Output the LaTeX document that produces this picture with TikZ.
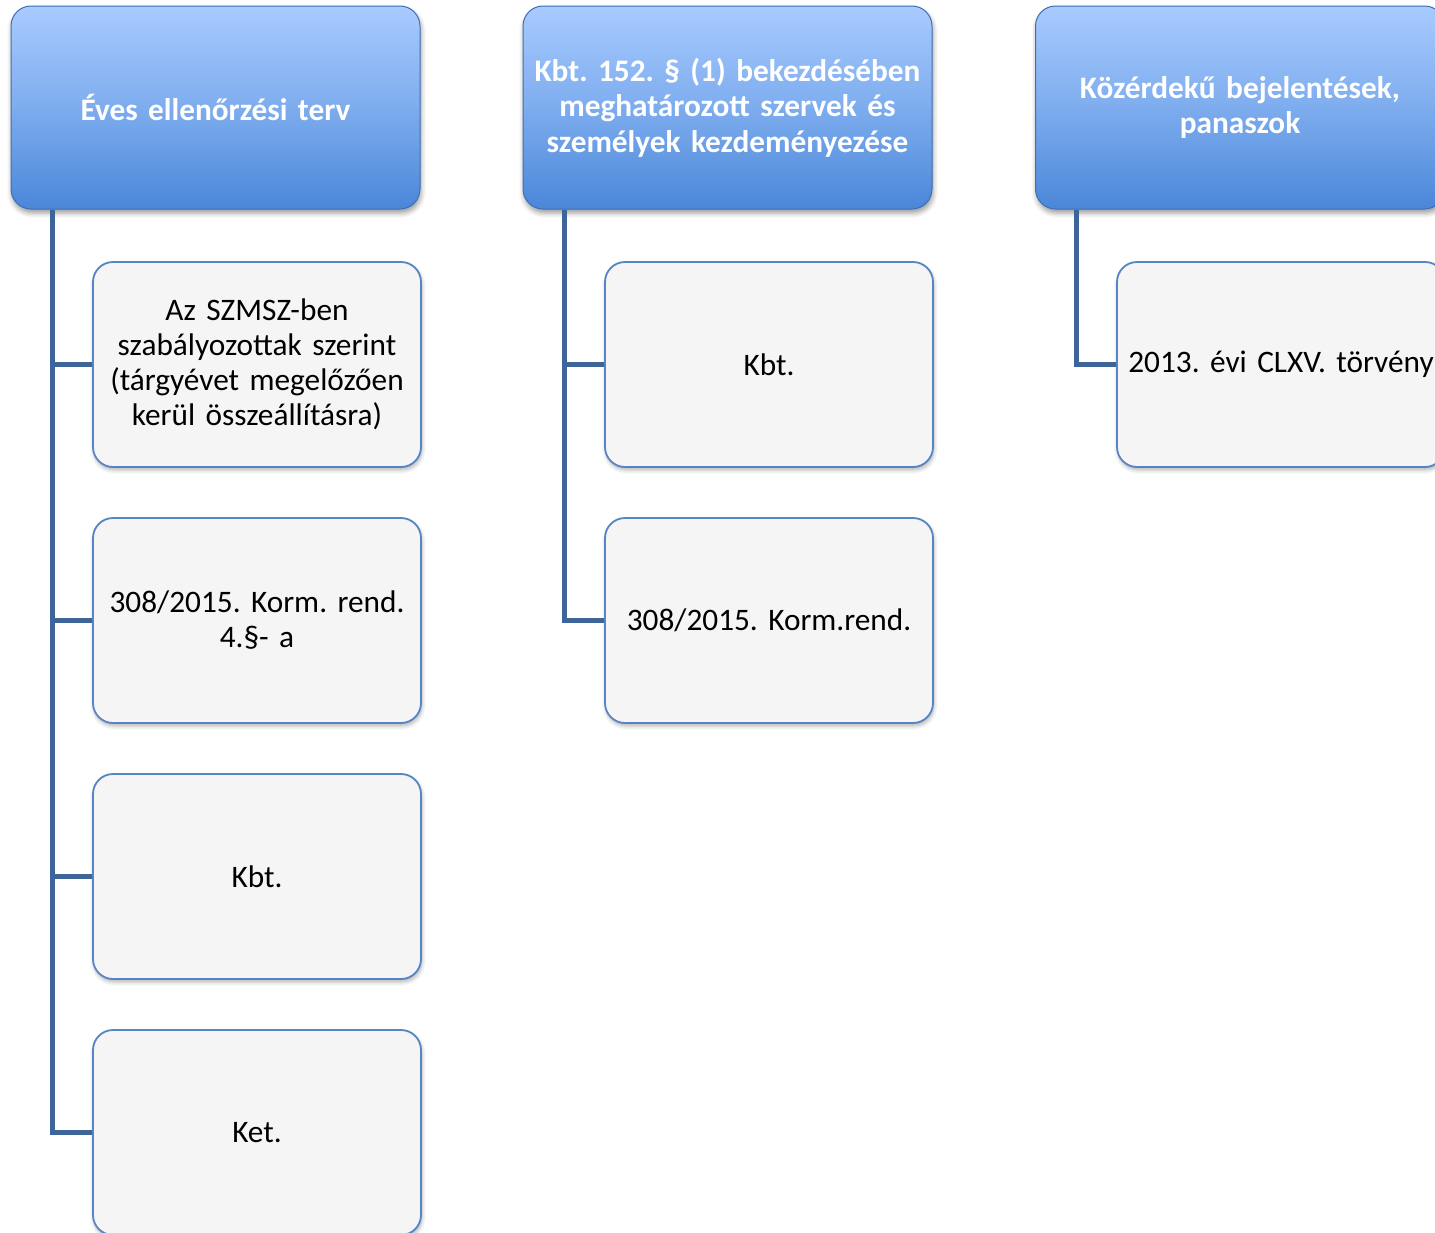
\documentclass[tikz,border=0pt]{standalone}
\usepackage{fontspec}
\setmainfont{Carlito}[WordSpace=0.8]
\usetikzlibrary{shadows.blur}
\definecolor{hdtop}{HTML}{A8CBFF}
\definecolor{hdbot}{HTML}{4A87D9}
\definecolor{hdline}{HTML}{3F6FB0}
\definecolor{chline}{HTML}{5585C4}
\definecolor{chfill}{HTML}{F5F5F5}
\definecolor{connc}{HTML}{3E6599}
\begin{document}
\frenchspacing
\begin{tikzpicture}[x=1pt,y=-1pt,
  hdr/.style={rounded corners=20pt, top color=hdtop, bottom color=hdbot, middle color=hdtop!55!hdbot,
    draw=hdline, line width=1pt, minimum width=409pt, minimum height=203pt, text width=400pt,
    align=center, text=white, font=\bfseries\fontsize{31.3}{35.5}\selectfont, inner sep=0pt,
    blur shadow={shadow xshift=1pt, shadow yshift=-4pt, shadow blur radius=5pt, shadow opacity=40}},
  chbox/.style={rounded corners=20pt, fill=chfill, draw=chline, line width=1.8pt,
    minimum width=328pt, minimum height=205pt, text width=324pt, align=center, inner sep=0pt,
    font=\fontsize{31.3}{35}\selectfont,
    blur shadow={shadow xshift=1pt, shadow yshift=-3pt, shadow blur radius=4pt, shadow opacity=30}},
  conn/.style={draw=connc, line width=5pt}]
\useasboundingbox (0,0) rectangle (1435,1232);
\clip (0,0) rectangle (1435,1232);
% headers
\node[hdr] (h1) at (215.5,107.5) {Éves ellenőrzési terv};
\node[hdr] (h2) at (727.5,107.5) {Kbt. 152. § (1) bekezdésében\\meghatározott szervek és\\személyek kezdeményezése};
\node[hdr] (h3) at (1240,107.5) {Közérdekű bejelentések,\\panaszok};
% children
\node[chbox] (c11) at (257,364.5) {Az SZMSZ-ben\\szabályozottak szerint\\(tárgyévet megelőzően\\kerül összeállításra)};
\node[chbox] (c12) at (257,620.5) {308/2015. Korm. rend.\\4.§- a};
\node[chbox] (c13) at (257,876.5) {Kbt.};
\node[chbox] (c14) at (257,1132.5) {Ket.};
\node[chbox] (c21) at (769,364.5) {Kbt.};
\node[chbox] (c22) at (769,620.5) {308/2015. Korm.rend.};
\node[chbox] (c31) at (1281,364.5) {2013. évi CLXV. törvény};
% connector anchors
\coordinate (v1) at (52,210);
\coordinate (v2) at (564,210);
\coordinate (v3) at (1076,210);
\draw[conn] (v1) |- (c11.west);
\draw[conn] (v1) |- (c12.west);
\draw[conn] (v1) |- (c13.west);
\draw[conn] (v1) |- (c14.west);
\draw[conn] (v2) |- (c21.west);
\draw[conn] (v2) |- (c22.west);
\draw[conn] (v3) |- (c31.west);
\end{tikzpicture}
\end{document}
